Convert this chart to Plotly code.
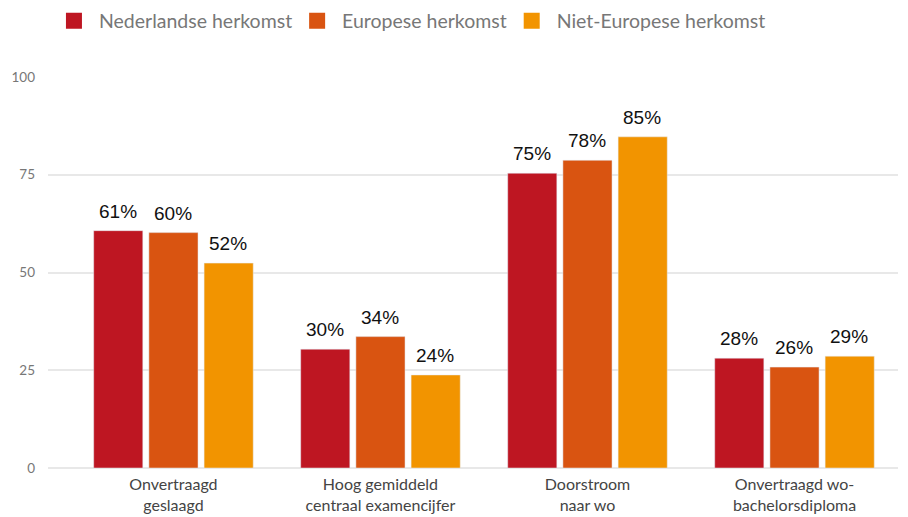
import plotly.graph_objects as go

categories = ["Onvertraagd<br>geslaagd", "Hoog gemiddeld<br>centraal examencijfer",
              "Doorstroom<br>naar wo", "Onvertraagd wo-<br>bachelorsdiploma"]
series_names = ["Nederlandse herkomst", "Europese herkomst", "Niet-Europese herkomst"]
nederlands = [60.7, 30.4, 75.4, 28.1]
europees = [60.2, 33.6, 78.7, 25.8]
niet_europees = [52.4, 23.8, 84.7, 28.6]
labels_nl = ["61%", "30%", "75%", "28%"]
labels_eu = ["60%", "34%", "78%", "26%"]
labels_ne = ["52%", "24%", "85%", "29%"]
colors = ["#BE1622", "#D95411", "#F29400"]

fig = go.Figure()
all_vals = [nederlands, europees, niet_europees]
all_labels = [labels_nl, labels_eu, labels_ne]
for i, (name, vals, labs, col) in enumerate(zip(series_names, all_vals, all_labels, colors)):
    fig.add_trace(go.Bar(
        x=categories, y=vals, name=name, marker_color=col,
        showlegend=False, hoverinfo="skip",
    ))
    # legend entry with a bigger square
    fig.add_trace(go.Scatter(
        x=[None], y=[None], mode="markers", name="\u00a0" + name,
        marker=dict(symbol="square", size=18, color=col),
    ))
    # value labels above each bar
    for cat, v, lab in zip(categories, vals, labs):
        fig.add_annotation(
            x=cat, y=v, text=lab, showarrow=False,
            xshift=(i - 1) * 55, yshift=7, yanchor="bottom",
            font=dict(family="Liberation Sans, Arial", size=19, color="#111"),
        )

grid = dict(showgrid=True, gridcolor="#E8E8E8", gridwidth=2)

# the page body has an 8px margin, so the figure is a bit smaller and shifted
fig.update_layout(
    width=900, height=509,
    margin=dict(l=40, r=10, t=69, b=49),
    plot_bgcolor="white", paper_bgcolor="white",
    barmode="group", bargap=0.2, bargroupgap=0.11,
    font=dict(family="Lato, sans-serif", color="#777"),
    showlegend=True,
    legend=dict(orientation="h", x=0.007, xanchor="left",
                yref="container", y=0.9745, yanchor="middle",
                font=dict(size=19.5, color="#777"), itemwidth=30,
                traceorder="normal", itemsizing="trace"),
    xaxis=dict(range=[-0.606, 3.5], showgrid=False, showline=False, ticks="",
               automargin=False, ticklabelstandoff=5,
               tickfont=dict(size=16, color="#444")),
    yaxis=dict(range=[0, 100], tickvals=[0, 25, 50, 75, 100], zeroline=True,
               zerolinecolor="#E8E8E8", zerolinewidth=2, automargin=False,
               tickfont=dict(size=13.5, color="#777"), ticklabelstandoff=12, **grid),
)

fig.write_html("out.html")
